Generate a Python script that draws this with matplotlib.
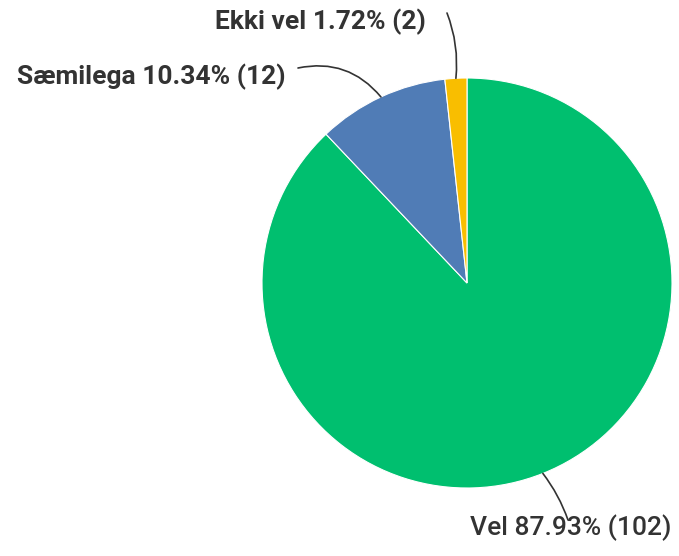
import numpy as np
import matplotlib.pyplot as plt

# survey answers
labels = ["Vel", "Sæmilega", "Ekki vel"]
counts = [102, 12, 2]
percents = [87.93, 10.34, 1.72]
colors = ["#00BF6F", "#507CB6", "#F9BE00"]

W, H = 679, 556
cx, cy, r = 467, 273, 205

fig = plt.figure(figsize=(W / 100, H / 100), dpi=100)
ax = fig.add_axes([0, 0, 1, 1])
ax.set_xlim(0, W)
ax.set_ylim(0, H)
ax.axis("off")

wedges, _ = ax.pie(counts, colors=colors, startangle=90, counterclock=False,
                   center=(cx, cy), radius=r,
                   wedgeprops=dict(edgecolor="white", linewidth=0.8))
ax.set_xlim(0, W)
ax.set_ylim(0, H)

# label placement: (text x, text y, ha, line end x, line end y, curve)
place = {
    "Vel": (470, 28, "left", 568, 36, 0.08),
    "Sæmilega": (286, 479, "right", 298, 488, -0.3),
    "Ekki vel": (426, 534, "right", 447, 543, -0.12),
}

for w, lab, n, p in zip(wedges, labels, counts, percents):
    mid = np.deg2rad((w.theta1 + w.theta2) / 2)
    ax0 = cx + r * np.cos(mid)
    ay0 = cy + r * np.sin(mid)
    tx, ty, ha, ex, ey, rad = place[lab]
    weight = "medium" if lab == "Vel" else "bold"
    ax.text(tx, ty, f"{lab} {p:.2f}% ({n})", ha=ha, va="center",
            fontsize=19, fontfamily="Roboto", fontweight=weight, color="#333333")
    ax.annotate("", xy=(ax0, ay0), xytext=(ex, ey),
                arrowprops=dict(arrowstyle="-", color="#333333", lw=1.2,
                                connectionstyle=f"arc3,rad={rad}",
                                shrinkA=0, shrinkB=0))

fig.savefig("out.png", dpi=100)
